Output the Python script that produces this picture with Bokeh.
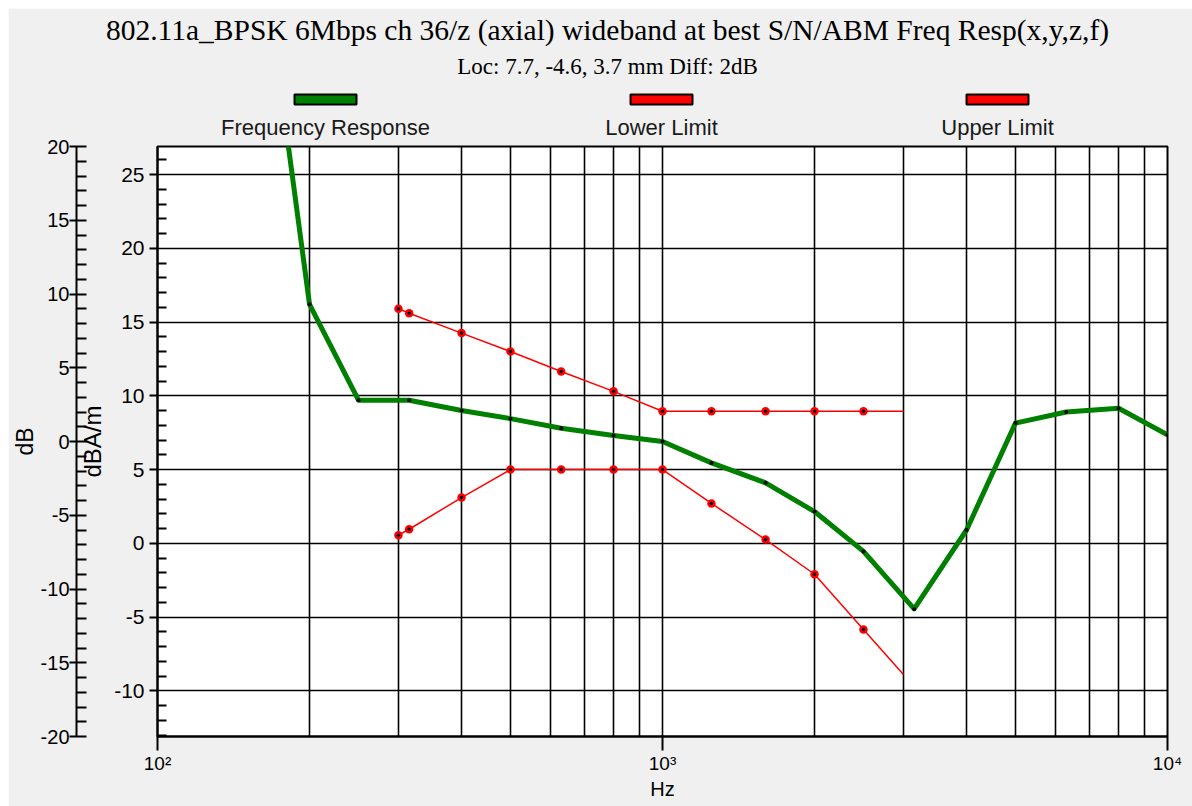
from bokeh.plotting import figure
from bokeh.models import Range1d, LinearAxis, FixedTicker, PrintfTickFormatter
from bokeh.embed import file_html
from bokeh.resources import INLINE
from bokeh.core.properties import value

# ---------------- data ----------------
resp_hz = [160, 200, 250, 315, 400, 500, 630, 800, 1000, 1250, 1600, 2000, 2500,
           3150, 4000, 5000, 6300, 8000, 10000]
resp_dba = [41.0, 16.2, 9.7, 9.7, 9.0, 8.45, 7.8, 7.3, 6.9, 5.45, 4.1, 2.15, -0.55,
            -4.45, 0.9, 8.15, 8.9, 9.15, 7.35]

lower_hz = [300, 315, 400, 500, 630, 800, 1000, 1250, 1600, 2000, 2500, 3000]
lower_dba = [0.55, 0.95, 3.1, 5.0, 5.0, 5.0, 5.0, 2.7, 0.25, -2.1, -5.85, -8.9]

upper_hz = [300, 315, 400, 500, 630, 800, 1000, 1250, 1600, 2000, 2500, 3000]
upper_dba = [15.9, 15.6, 14.25, 13.0, 11.65, 10.3, 8.95, 8.95, 8.95, 8.95, 8.95, 8.95]

series_names = ["Frequency Response", "Lower Limit", "Upper Limit"]
series_colors = ["#008000", "#ff0000", "#ff0000"]

x_major = [100, 1000, 10000]
x_minor = [200, 300, 400, 500, 600, 700, 800, 900,
           2000, 3000, 4000, 5000, 6000, 7000, 8000, 9000]
x_labels = {100: "10\u00b2", 1000: "10\u00b3", 10000: "10\u2074"}

dba_major = [-10, -5, 0, 5, 10, 15, 20, 25]
db_major = [-20, -15, -10, -5, 0, 5, 10, 15, 20]

title_text = "802.11a_BPSK 6Mbps ch 36/z (axial) wideband at best S/N/ABM Freq Resp(x,y,z,f)"
subtitle_text = "Loc: 7.7, -4.6, 3.7 mm Diff: 2dB"

BG = "#f0f0f0"
SANS = "Liberation Sans"
SERIF = "Liberation Serif"
W = 1184
H = 798

# ---------------- main plot (its top border holds the header area) ----------------
p = figure(width=W, height=H, x_axis_type="log",
           x_range=Range1d(100, 10000), y_range=Range1d(-13.1, 26.9),
           output_backend="svg", toolbar_location=None,
           min_border_left=149, min_border_right=25, min_border_top=138, min_border_bottom=70)
p.margin = (8, 0, 0, 8)
p.border_fill_color = BG
p.background_fill_color = "white"
p.outline_line_color = "black"
p.outline_line_width = 2

xt = FixedTicker(ticks=x_major, minor_ticks=x_minor)
p.xaxis.ticker = xt
p.xgrid.ticker = xt
p.xgrid.grid_line_color = "black"
p.xgrid.grid_line_width = 1.6
p.xgrid.minor_grid_line_color = "black"
p.xgrid.minor_grid_line_width = 1.6
p.xaxis.major_label_overrides = x_labels
p.xaxis.axis_label = "Hz"

dba_minor = [v for v in range(-13, 27) if v % 5 != 0]
yt = FixedTicker(ticks=dba_major, minor_ticks=dba_minor)
p.yaxis.ticker = yt
p.ygrid.ticker = yt
p.ygrid.grid_line_color = "black"
p.ygrid.grid_line_width = 1.6
p.yaxis.axis_label = "dBA/m"
p.yaxis.formatter = PrintfTickFormatter(format="%d")

for ax in (p.xaxis[0], p.yaxis[0]):
    ax.axis_line_color = "black"
    ax.axis_line_width = 2
    ax.major_tick_line_color = "black"
    ax.major_tick_line_width = 2
    ax.minor_tick_line_color = "black"
    ax.minor_tick_line_width = 2
    ax.major_label_text_color = "black"
    ax.major_label_text_font = SANS
    ax.axis_label_text_color = "black"
    ax.axis_label_text_font = SANS
    ax.axis_label_text_font_style = "normal"

xa = p.xaxis[0]
xa.major_tick_out = 14
xa.major_tick_in = 0
xa.minor_tick_out = 0
xa.minor_tick_in = 0
xa.major_label_standoff = 2
xa.axis_label_standoff = 1
xa.major_label_text_font_size = "19px"
xa.axis_label_text_font_size = "20px"

ya = p.yaxis[0]
ya.major_tick_out = 8
ya.major_tick_in = 0
ya.minor_tick_out = 0
ya.minor_tick_in = 9
ya.major_label_standoff = 5
ya.axis_label_standoff = 5
ya.major_label_text_font_size = "21px"
ya.axis_label_text_font_size = "24px"

# outer dB axis
p.extra_y_ranges = {"db": Range1d(-20, 20)}
db_minor = [v for v in range(-20, 21) if v % 5 != 0]
dbax = LinearAxis(y_range_name="db", ticker=FixedTicker(ticks=db_major, minor_ticks=db_minor),
                  axis_label="dB", formatter=PrintfTickFormatter(format="%d"))
dbax.axis_line_color = "black"
dbax.axis_line_width = 2
dbax.major_tick_line_color = "black"
dbax.major_tick_line_width = 2
dbax.minor_tick_line_color = "black"
dbax.minor_tick_line_width = 2
dbax.major_tick_out = 7
dbax.major_tick_in = 10
dbax.minor_tick_out = 0
dbax.minor_tick_in = 10
dbax.major_label_standoff = 0
dbax.axis_label_standoff = 0
dbax.major_label_text_font = SANS
dbax.major_label_text_font_size = "20px"
dbax.major_label_text_color = "black"
dbax.axis_label_text_font = SANS
dbax.axis_label_text_font_size = "23px"
dbax.axis_label_text_font_style = "normal"
dbax.axis_label_text_color = "black"
p.add_layout(dbax, "left")

# series
p.line(lower_hz, lower_dba, line_color=series_colors[1], line_width=1.5)
p.line(upper_hz, upper_dba, line_color=series_colors[2], line_width=1.5)
p.scatter(lower_hz[:-1], lower_dba[:-1], size=8.5, fill_color=series_colors[1], line_color=None)
p.scatter(upper_hz[:-1], upper_dba[:-1], size=8.5, fill_color=series_colors[2], line_color=None)
p.scatter(lower_hz[:-1], lower_dba[:-1], size=3.5, fill_color="black", line_color=None)
p.scatter(upper_hz[:-1], upper_dba[:-1], size=3.5, fill_color="black", line_color=None)

p.line(resp_hz, resp_dba, line_color=series_colors[0], line_width=5, line_join="round")
p.scatter(resp_hz, resp_dba, size=4, fill_color="black", line_color=None)

# ---------------- header overlay (title + legend), page pixel coordinates ----------------
HW = 1176
HH = 138
hdr = figure(width=HW, height=HH, x_range=Range1d(8, 8 + HW), y_range=Range1d(8 + HH, 8),
             output_backend="svg", toolbar_location=None,
             x_axis_location=None, y_axis_location=None, min_border=0)
hdr.margin = (-H, 0, 0, 8)
hdr.grid.visible = False
hdr.outline_line_color = None
hdr.background_fill_color = None
hdr.border_fill_color = None

hdr.text(x=[607], y=[29], text=[title_text], text_font=value(SERIF),
         text_font_size=value("29.5px"), text_align="center", text_baseline="alphabetic",
         text_color="black")
hdr.text(x=[607], y=[66], text=[subtitle_text], text_font=value(SERIF),
         text_font_size=value("23px"), text_align="center", text_baseline="alphabetic",
         text_color="black")

leg_x = [325, 661, 997]
hdr.rect(x=leg_x, y=[99] * 3, width=62, height=10, fill_color=series_colors,
         line_color="black", line_width=2)
hdr.text(x=leg_x, y=[127] * 3, text=series_names, text_font=value(SANS),
         text_font_size=value("22px"), text_align="center", text_baseline="alphabetic",
         text_color="#1a1a1a")

open("out.html", "w").write(file_html([p, hdr], INLINE))
